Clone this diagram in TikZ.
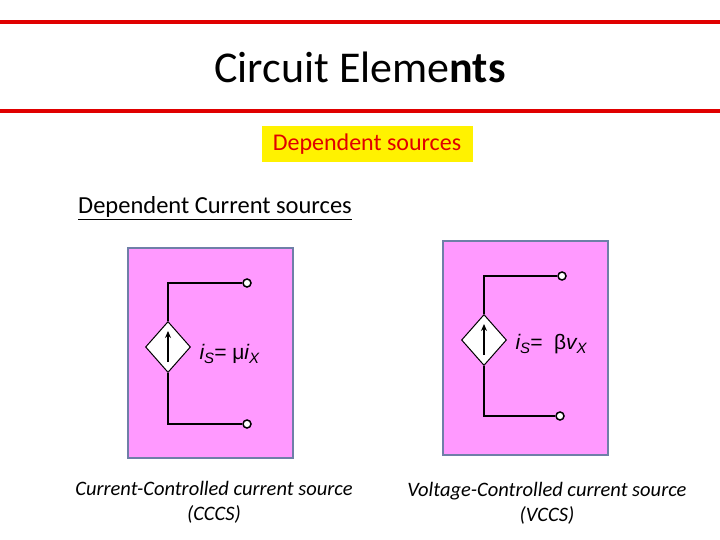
\documentclass[tikz,border=0pt]{standalone}
\usepackage{fontspec}
\setmainfont{Carlito}
\newfontfamily\arialf{Liberation Sans}
\usetikzlibrary{shapes.geometric,arrows.meta}
\definecolor{pinkbg}{HTML}{FF99FF}
\definecolor{boxedge}{HTML}{6F7FA8}
\definecolor{redline}{HTML}{E00000}
\tikzset{
  panel/.style={draw=boxedge,line width=1.5pt,fill=pinkbg},
  src/.style={diamond,draw=black,fill=white,line width=1pt,minimum width=45pt,minimum height=51pt,inner sep=0pt,aspect=0.9},
  wire/.style={line width=2pt,black},
  term/.style={circle,draw=black,fill=white,line width=1.5pt,minimum size=8pt,inner sep=0pt},
  lab/.style={font=\arialf\itshape\fontsize{21}{22}\selectfont,anchor=west},
  captext/.style={font=\itshape\fontsize{20.5}{25}\selectfont,align=center}
}
\begin{document}
\begin{tikzpicture}[x=1pt,y=-1pt]
\useasboundingbox (0,0) rectangle (720,540);
\fill[white] (0,0) rectangle (720,540);
\draw[redline,line width=4pt] (0,22) -- (720,22);
\draw[redline,line width=4pt] (0,111) -- (720,111);
\node (title) at (360,67) {\fontsize{44}{48}\selectfont Circuit Eleme\textbf{nts}};
\node[fill=yellow,minimum width=211pt,minimum height=36pt,inner sep=0pt,text=redline] (dep) at (367,144) {\fontsize{24}{28}\selectfont Dependent sources};
\node[anchor=west,inner sep=0pt] (dcs) at (78,208) {\fontsize{24.5}{28}\selectfont\underline{Dependent Current sources}};
% left
\draw[panel] (128,248) rectangle (293,458);
\node[src] (d1) at (168,347) {};
\node[term] (t1) at (247,283) {};
\node[term] (b1) at (247,424) {};
\draw[wire] (d1.north) -- (168,283) -- (t1.west);
\draw[wire] (d1.south) -- (168,424) -- (b1.west);
\draw[line width=1.8pt,-{Stealth[length=7pt,width=6pt]}] (168,362) -- (168,331);
\node[lab] (l1) at (196,354) {i\raisebox{-4pt}{\fontsize{15}{15}\selectfont S}= \textup{μ}i\raisebox{-4pt}{\fontsize{15}{15}\selectfont X}};
% right
\draw[panel] (443,241) rectangle (608,455);
\node[src] (d2) at (484,340) {};
\node[term] (t2) at (562,276) {};
\node[term] (b2) at (560,416) {};
\draw[wire] (d2.north) -- (484,276) -- (t2.west);
\draw[wire] (d2.south) -- (484,416) -- (b2.west);
\draw[line width=1.8pt,-{Stealth[length=7pt,width=6pt]}] (484,355) -- (484,324);
\node[lab] (l2) at (512,344) {i\raisebox{-4pt}{\fontsize{15}{15}\selectfont S}= \ \textup{β}v\raisebox{-4pt}{\fontsize{15}{15}\selectfont X}};
\node[captext] (c1) at (214,502) {Current-Controlled current source\\(CCCS)};
\node[captext] (c2) at (547,503) {Voltage-Controlled current source\\(VCCS)};
\end{tikzpicture}
\end{document}
